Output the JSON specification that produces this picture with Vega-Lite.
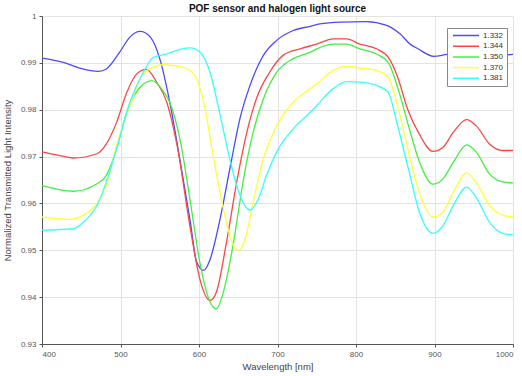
{
  "$schema": "https://vega.github.io/schema/vega-lite/v6.json",
  "autosize": "none",
  "width": 471,
  "height": 328,
  "padding": {"left": 42, "top": 16, "right": 9, "bottom": 32},
  "background": "white",
  "title": {"text": "POF sensor and halogen light source", "font": "Liberation Sans", "fontSize": 10, "fontWeight": "bold", "color": "#111111", "offset": -2, "frame": "group"},
  "config": {
    "view": {"stroke": null},
    "axis": {"labelFont": "Liberation Sans", "titleFont": "Liberation Sans", "labelFontSize": 8, "titleFontSize": 9.5, "labelColor": "#555555", "titleColor": "#444444", "titleFontWeight": "normal", "domainColor": "#555555", "tickColor": "#555555", "gridColor": "#e3e3e3", "gridWidth": 1, "tickSize": 3}
  },
  "data": {"values": [
    {"wl":400,"n":"1.332","v":0.9910},{"wl":427,"n":"1.332","v":0.9901},{"wl":448,"n":"1.332","v":0.9889},{"wl":472,"n":"1.332","v":0.9882},{"wl":482,"n":"1.332","v":0.9887},{"wl":499,"n":"1.332","v":0.9923},{"wl":512,"n":"1.332","v":0.9955},{"wl":525,"n":"1.332","v":0.9967},{"wl":538,"n":"1.332","v":0.9955},{"wl":550,"n":"1.332","v":0.9909},{"wl":563,"n":"1.332","v":0.9814},{"wl":576,"n":"1.332","v":0.9690},{"wl":589,"n":"1.332","v":0.9560},{"wl":597,"n":"1.332","v":0.9475},{"wl":606,"n":"1.332","v":0.9457},{"wl":614,"n":"1.332","v":0.9480},{"wl":627,"n":"1.332","v":0.9568},{"wl":640,"n":"1.332","v":0.9680},{"wl":652,"n":"1.332","v":0.9780},{"wl":665,"n":"1.332","v":0.9852},{"wl":682,"n":"1.332","v":0.9916},{"wl":699,"n":"1.332","v":0.9948},{"wl":720,"n":"1.332","v":0.9969},{"wl":742,"n":"1.332","v":0.9978},{"wl":754,"n":"1.332","v":0.9983},{"wl":780,"n":"1.332","v":0.9987},{"wl":813,"n":"1.332","v":0.9988},{"wl":839,"n":"1.332","v":0.9980},{"wl":856,"n":"1.332","v":0.9962},{"wl":869,"n":"1.332","v":0.9940},{"wl":879,"n":"1.332","v":0.9930},{"wl":899,"n":"1.332","v":0.9914},{"wl":916,"n":"1.332","v":0.9918},{"wl":940,"n":"1.332","v":0.9921},{"wl":960,"n":"1.332","v":0.9920},{"wl":987,"n":"1.332","v":0.9917},{"wl":1000,"n":"1.332","v":0.9918},

    {"wl":400,"n":"1.344","v":0.9710},{"wl":420,"n":"1.344","v":0.9703},{"wl":440,"n":"1.344","v":0.9697},{"wl":470,"n":"1.344","v":0.9706},{"wl":482,"n":"1.344","v":0.9727},{"wl":495,"n":"1.344","v":0.9773},{"wl":508,"n":"1.344","v":0.9837},{"wl":521,"n":"1.344","v":0.9877},{"wl":533,"n":"1.344","v":0.9886},{"wl":546,"n":"1.344","v":0.9859},{"wl":559,"n":"1.344","v":0.9816},{"wl":572,"n":"1.344","v":0.9725},{"wl":589,"n":"1.344","v":0.9546},{"wl":601,"n":"1.344","v":0.9439},{"wl":614,"n":"1.344","v":0.9393},{"wl":622,"n":"1.344","v":0.9410},{"wl":635,"n":"1.344","v":0.9517},{"wl":648,"n":"1.344","v":0.9645},{"wl":661,"n":"1.344","v":0.9752},{"wl":673,"n":"1.344","v":0.9823},{"wl":690,"n":"1.344","v":0.9880},{"wl":707,"n":"1.344","v":0.9916},{"wl":729,"n":"1.344","v":0.9930},{"wl":750,"n":"1.344","v":0.9940},{"wl":771,"n":"1.344","v":0.9951},{"wl":788,"n":"1.344","v":0.9951},{"wl":805,"n":"1.344","v":0.9940},{"wl":826,"n":"1.344","v":0.9930},{"wl":841,"n":"1.344","v":0.9912},{"wl":853,"n":"1.344","v":0.9870},{"wl":866,"n":"1.344","v":0.9800},{"wl":880,"n":"1.344","v":0.9750},{"wl":898,"n":"1.344","v":0.9711},{"wl":911,"n":"1.344","v":0.9720},{"wl":924,"n":"1.344","v":0.9752},{"wl":941,"n":"1.344","v":0.9779},{"wl":953,"n":"1.344","v":0.9766},{"wl":970,"n":"1.344","v":0.9727},{"wl":987,"n":"1.344","v":0.9713},{"wl":1000,"n":"1.344","v":0.9713},

    {"wl":400,"n":"1.350","v":0.9638},{"wl":440,"n":"1.350","v":0.9626},{"wl":470,"n":"1.350","v":0.9642},{"wl":482,"n":"1.350","v":0.9660},{"wl":495,"n":"1.350","v":0.9717},{"wl":508,"n":"1.350","v":0.9795},{"wl":525,"n":"1.350","v":0.9848},{"wl":540,"n":"1.350","v":0.9862},{"wl":554,"n":"1.350","v":0.9841},{"wl":563,"n":"1.350","v":0.9815},{"wl":576,"n":"1.350","v":0.9735},{"wl":589,"n":"1.350","v":0.9603},{"wl":601,"n":"1.350","v":0.9475},{"wl":614,"n":"1.350","v":0.9390},{"wl":622,"n":"1.350","v":0.9375},{"wl":631,"n":"1.350","v":0.9411},{"wl":644,"n":"1.350","v":0.9517},{"wl":656,"n":"1.350","v":0.9645},{"wl":669,"n":"1.350","v":0.9752},{"wl":682,"n":"1.350","v":0.9823},{"wl":699,"n":"1.350","v":0.9880},{"wl":720,"n":"1.350","v":0.9909},{"wl":742,"n":"1.350","v":0.9923},{"wl":750,"n":"1.350","v":0.9930},{"wl":771,"n":"1.350","v":0.9940},{"wl":788,"n":"1.350","v":0.9940},{"wl":805,"n":"1.350","v":0.9930},{"wl":826,"n":"1.350","v":0.9919},{"wl":841,"n":"1.350","v":0.9901},{"wl":855,"n":"1.350","v":0.9837},{"wl":868,"n":"1.350","v":0.9759},{"wl":881,"n":"1.350","v":0.9688},{"wl":898,"n":"1.350","v":0.9641},{"wl":911,"n":"1.350","v":0.9653},{"wl":924,"n":"1.350","v":0.9688},{"wl":941,"n":"1.350","v":0.9725},{"wl":953,"n":"1.350","v":0.9710},{"wl":970,"n":"1.350","v":0.9663},{"wl":987,"n":"1.350","v":0.9646},{"wl":1000,"n":"1.350","v":0.9644},

    {"wl":400,"n":"1.370","v":0.9571},{"wl":436,"n":"1.370","v":0.9566},{"wl":453,"n":"1.370","v":0.9575},{"wl":470,"n":"1.370","v":0.9600},{"wl":482,"n":"1.370","v":0.9638},{"wl":495,"n":"1.370","v":0.9724},{"wl":512,"n":"1.370","v":0.9809},{"wl":529,"n":"1.370","v":0.9877},{"wl":542,"n":"1.370","v":0.9891},{"wl":554,"n":"1.370","v":0.9896},{"wl":576,"n":"1.370","v":0.9892},{"wl":593,"n":"1.370","v":0.9877},{"wl":606,"n":"1.370","v":0.9816},{"wl":618,"n":"1.370","v":0.9702},{"wl":631,"n":"1.370","v":0.9589},{"wl":642,"n":"1.370","v":0.9518},{"wl":650,"n":"1.370","v":0.9500},{"wl":659,"n":"1.370","v":0.9525},{"wl":669,"n":"1.370","v":0.9603},{"wl":682,"n":"1.370","v":0.9695},{"wl":699,"n":"1.370","v":0.9766},{"wl":720,"n":"1.370","v":0.9816},{"wl":742,"n":"1.370","v":0.9845},{"wl":750,"n":"1.370","v":0.9855},{"wl":771,"n":"1.370","v":0.9884},{"wl":788,"n":"1.370","v":0.9893},{"wl":805,"n":"1.370","v":0.9889},{"wl":826,"n":"1.370","v":0.9884},{"wl":841,"n":"1.370","v":0.9869},{"wl":855,"n":"1.370","v":0.9795},{"wl":868,"n":"1.370","v":0.9702},{"wl":881,"n":"1.370","v":0.9622},{"wl":898,"n":"1.370","v":0.9571},{"wl":911,"n":"1.370","v":0.9582},{"wl":924,"n":"1.370","v":0.9624},{"wl":941,"n":"1.370","v":0.9665},{"wl":953,"n":"1.370","v":0.9645},{"wl":970,"n":"1.370","v":0.9596},{"wl":987,"n":"1.370","v":0.9575},{"wl":1000,"n":"1.370","v":0.9571},

    {"wl":400,"n":"1.381","v":0.9543},{"wl":440,"n":"1.381","v":0.9546},{"wl":453,"n":"1.381","v":0.9560},{"wl":470,"n":"1.381","v":0.9596},{"wl":482,"n":"1.381","v":0.9646},{"wl":495,"n":"1.381","v":0.9717},{"wl":512,"n":"1.381","v":0.9816},{"wl":529,"n":"1.381","v":0.9880},{"wl":542,"n":"1.381","v":0.9912},{"wl":559,"n":"1.381","v":0.9919},{"wl":576,"n":"1.381","v":0.9929},{"wl":589,"n":"1.381","v":0.9932},{"wl":601,"n":"1.381","v":0.9923},{"wl":614,"n":"1.381","v":0.9880},{"wl":627,"n":"1.381","v":0.9788},{"wl":640,"n":"1.381","v":0.9689},{"wl":652,"n":"1.381","v":0.9618},{"wl":665,"n":"1.381","v":0.9586},{"wl":676,"n":"1.381","v":0.9611},{"wl":686,"n":"1.381","v":0.9660},{"wl":699,"n":"1.381","v":0.9710},{"wl":720,"n":"1.381","v":0.9759},{"wl":742,"n":"1.381","v":0.9795},{"wl":750,"n":"1.381","v":0.9809},{"wl":771,"n":"1.381","v":0.9845},{"wl":788,"n":"1.381","v":0.9860},{"wl":805,"n":"1.381","v":0.9859},{"wl":826,"n":"1.381","v":0.9852},{"wl":841,"n":"1.381","v":0.9837},{"wl":853,"n":"1.381","v":0.9766},{"wl":867,"n":"1.381","v":0.9672},{"wl":881,"n":"1.381","v":0.9580},{"wl":898,"n":"1.381","v":0.9536},{"wl":911,"n":"1.381","v":0.9553},{"wl":924,"n":"1.381","v":0.9596},{"wl":941,"n":"1.381","v":0.9635},{"wl":953,"n":"1.381","v":0.9613},{"wl":970,"n":"1.381","v":0.9560},{"wl":987,"n":"1.381","v":0.9536},{"wl":1000,"n":"1.381","v":0.9533}
  ]},
  "mark": {"type": "line", "interpolate": "monotone", "strokeWidth": 1.3},
  "encoding": {
    "x": {"field": "wl", "type": "quantitative", "scale": {"domain": [400, 1000], "nice": false}, "axis": {"values": [400,500,600,700,800,900,1000], "format": "d", "title": "Wavelength [nm]", "titlePadding": 3, "labelPadding": 3}},
    "y": {"field": "v", "type": "quantitative", "scale": {"domain": [0.93, 1.0], "nice": false, "zero": false}, "axis": {"values": [0.93,0.94,0.95,0.96,0.97,0.98,0.99,1.0], "labelExpr": "datum.value >= 0.9999 ? '1' : format(datum.value, '.2f')", "title": "Normalized Transmitted Light Intensity", "titlePadding": 8, "labelPadding": 3}},
    "color": {"field": "n", "type": "nominal", "sort": ["1.332","1.344","1.350","1.370","1.381"], "scale": {"domain": ["1.332","1.344","1.350","1.370","1.381"], "range": ["#4a4aff","#ff4444","#44ee44","#ffff33","#33ffff"]},
      "legend": {"title": null, "orient": "none", "legendX": 405, "legendY": 12, "symbolType": "stroke", "symbolSize": 676, "symbolStrokeWidth": 1.5, "symbolOffset": 2, "clipHeight": 9, "labelFont": "Liberation Sans", "labelFontSize": 8, "labelColor": "#333333", "labelOffset": 3, "strokeColor": "#888888", "fillColor": "white", "padding": 3, "rowPadding": 1.7}}
  }
}
